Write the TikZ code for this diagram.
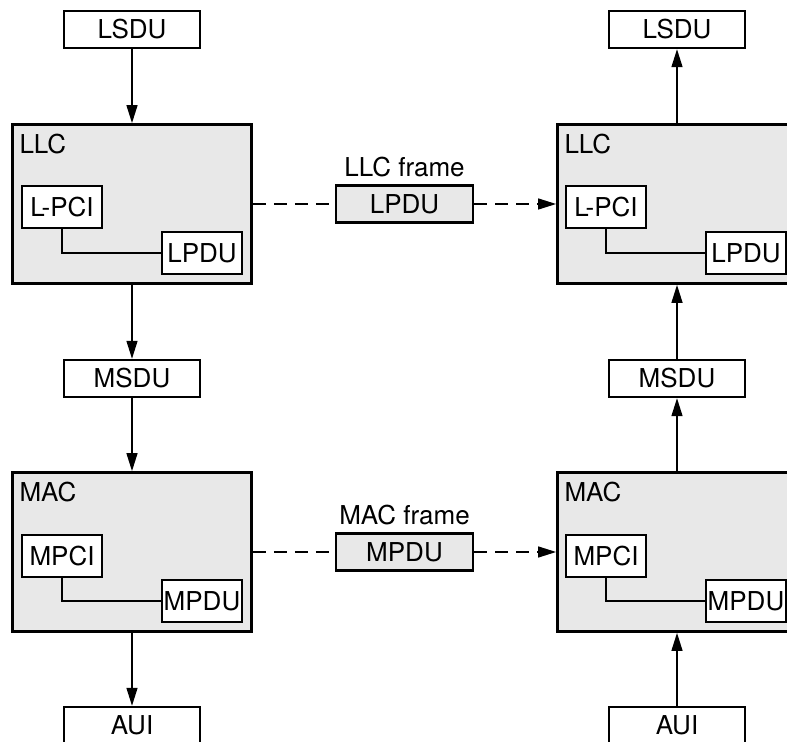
\documentclass[tikz,border=0pt]{standalone}
\usepackage{fontspec}
\setmainfont{TeX Gyre Heros}
\usetikzlibrary{arrows.meta, positioning}

\begin{document}
\begin{tikzpicture}[
    x=0.5pt, y=-0.5pt,
    font=\fontsize{13}{15}\selectfont,
    pdu/.style={rectangle, draw, line width=1.2pt, fill=white, minimum width=68pt, minimum height=18.5pt, inner sep=0pt},
    layer/.style={rectangle, draw, line width=1.4pt, fill=black!9, minimum width=119.5pt, minimum height=79.5pt},
    layername/.style={anchor=north west, inner sep=0pt},
    pcibox/.style={rectangle, draw, line width=0.9pt, fill=white, minimum width=40pt, minimum height=21pt, inner sep=0pt},
    framebox/.style={rectangle, draw, line width=1.2pt, fill=black!9, minimum width=68.5pt, minimum height=18.5pt, inner sep=0pt},
    arrow/.style={-{Triangle[length=9pt, width=5.5pt]}, line width=0.7pt},
    peer/.style={line width=0.7pt, dash pattern=on 6.5pt off 4pt},
    link/.style={line width=0.7pt}
]
\useasboundingbox (0,0) rectangle (787,742);
\clip (0,0) rectangle (787,742);

% Sending station
\node[pdu] (lsduA) at (132,29.5) {LSDU};
\node[layer] (llcA) at (132,204) {};
\node[layername] (llcAname) at ([xshift=4pt,yshift=-5.5pt]llcA.north west) {LLC};
\node[pcibox] (lpciA) at (62,207) {L-PCI};
\node[pcibox] (lpduA) at (202,253) {LPDU};
\node[pdu] (msduA) at (132,378.5) {MSDU};
\node[layer] (macA) at (132,552) {};
\node[layername] (macAname) at ([xshift=4pt,yshift=-5.5pt]macA.north west) {MAC};
\node[pcibox] (mpciA) at (62,556) {MPCI};
\node[pcibox] (mpduA) at (202,601) {MPDU};
\node[pdu] (auiA) at (132,725.5) {AUI};

% Receiving station
\node[pdu] (lsduB) at (677,29.5) {LSDU};
\node[layer] (llcB) at (677,204) {};
\node[layername] (llcBname) at ([xshift=4pt,yshift=-5.5pt]llcB.north west) {LLC};
\node[pcibox] (lpciB) at (606,207) {L-PCI};
\node[pcibox] (lpduB) at (746,253) {LPDU};
\node[pdu] (msduB) at (677,378.5) {MSDU};
\node[layer] (macB) at (677,552) {};
\node[layername] (macBname) at ([xshift=4pt,yshift=-5.5pt]macB.north west) {MAC};
\node[pcibox] (mpciB) at (606,556) {MPCI};
\node[pcibox] (mpduB) at (746,601) {MPDU};
\node[pdu] (auiB) at (677,725.5) {AUI};

% Frames between peers
\node[framebox] (lframe) at (404.5,204) {LPDU};
\node[above=0pt of lframe] (lframename) {LLC frame};
\node[framebox] (mframe) at (404.5,552) {MPDU};
\node[above=0pt of mframe] (mframename) {MAC frame};

% Inner links
\draw[link] (lpciA.south) |- (lpduA.west);
\draw[link] (mpciA.south) |- (mpduA.west);
\draw[link] (lpciB.south) |- (lpduB.west);
\draw[link] (mpciB.south) |- (mpduB.west);

% Down the stack
\draw[arrow] (lsduA) -- (llcA);
\draw[arrow] (llcA) -- (msduA);
\draw[arrow] (msduA) -- (macA);
\draw[arrow] (macA) -- (auiA);

% Up the stack
\draw[arrow] (auiB) -- (macB);
\draw[arrow] (macB) -- (msduB);
\draw[arrow] (msduB) -- (llcB);
\draw[arrow] (llcB) -- (lsduB);

% Peer exchange
\draw[peer] (lframe.west -| llcA.east) -- (lframe.west);
\draw[peer, arrow] (lframe.east) -- (lframe.east -| llcB.west);
\draw[peer] (mframe.west -| macA.east) -- (mframe.west);
\draw[peer, arrow] (mframe.east) -- (mframe.east -| macB.west);
\end{tikzpicture}
\end{document}
